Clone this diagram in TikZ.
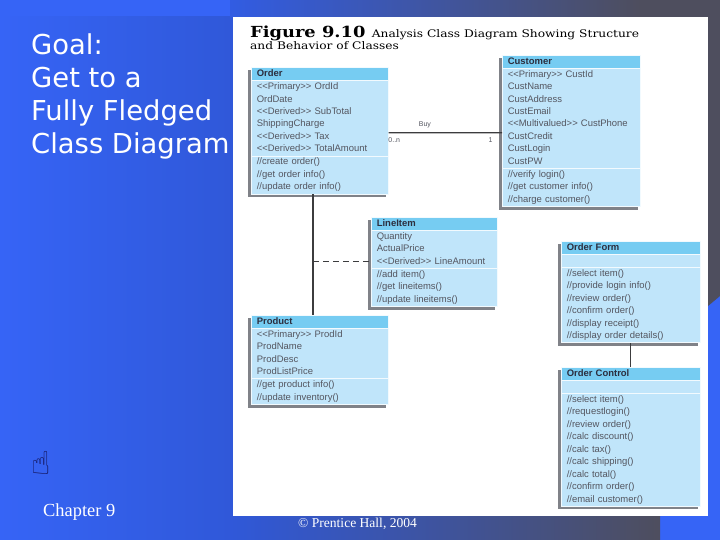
\documentclass[tikz,border=0pt]{standalone}
\usepackage{fontspec}
\usetikzlibrary{shapes.multipart,positioning}

\newfontfamily\slidefont{DejaVu Sans}
\newfontfamily\umlfont{Liberation Sans}
\newfontfamily\timesfont{Liberation Serif}
\newfontfamily\figfont{DejaVu Serif}[FakeStretch=1.17]

\definecolor{slideblue}{RGB}{54,100,246}
\definecolor{slidegray}{RGB}{78,78,94}
\definecolor{hdrblue}{RGB}{118,204,242}
\definecolor{bodyblue}{RGB}{192,229,250}
\definecolor{umltext}{RGB}{84,86,96}
\definecolor{umlhead}{RGB}{44,46,62}
\definecolor{linegray}{RGB}{60,60,62}
\definecolor{shadowgray}{RGB}{128,130,136}
\definecolor{handnavy}{RGB}{20,20,90}

\pgfdeclarelayer{back}
\pgfdeclarelayer{shadow}
\pgfsetlayers{back,shadow,main}

\begin{document}
\begin{tikzpicture}[
    x=1bp, y=-1bp,
    cls/.style={rectangle split, rectangle split parts=3,
        rectangle split part fill={hdrblue,bodyblue,bodyblue},
        draw=white!80!bodyblue, line width=0.6bp,
        inner xsep=5.5bp, inner ysep=0pt, align=left, anchor=north west,
        font=\umlfont\fontsize{9.5}{12.5}\selectfont, text=umltext},
    link/.style={draw=linegray, line width=1.3bp},
    mult/.style={font=\umlfont\fontsize{7}{8}\selectfont, text=umltext, inner sep=1bp},
]
\useasboundingbox (0,0) rectangle (720,540);

\begin{pgfonlayer}{back}
% slide background
\fill[slideblue] (0,0) rectangle (720,540);
\shade[left color=slideblue, right color=slideblue!88!black] (0,17) rectangle (233,540);
\shade[left color=slideblue!92!black, right color=slidegray] (230,0) rectangle (640,17);
\fill[slidegray] (640,0) rectangle (720,17);
\fill[slidegray] (708,0) -- (720,0) -- (720,296) -- (708,306) -- cycle;
\shade[left color=slideblue!88!black, right color=slidegray] (233,516) rectangle (660,540);

% figure panel
\fill[white] (233,17) rectangle (708,516);
\end{pgfonlayer}

% slide text
\node[anchor=base west, align=left, inner sep=0, text=white,
    font=\slidefont\fontsize{27.5}{33.3}\selectfont] (goal) at (31,154)
    {Goal:\\Get to a\\Fully Fledged\\Class Diagram};
\node[inner sep=0, text=handnavy, font=\slidefont\fontsize{32}{32}\selectfont]
    (hand) at (41,463) {☝};
\node[anchor=base west, inner sep=0, text=white,
    font=\timesfont\fontsize{18.5}{20}\selectfont] (chapter) at (43,516) {Chapter 9};
\node[anchor=base west, inner sep=0, text=white,
    font=\timesfont\fontsize{13.6}{15}\selectfont] (copy) at (298,527)
    {© Prentice Hall, 2004};

% figure caption
\node[anchor=base west, inner sep=0, font=\figfont\bfseries\fontsize{15.3}{18}\selectfont]
    (fignum) at (250,37.7) {Figure 9.10};
\node[right=6bp of fignum.base east, anchor=base west, inner sep=0,
    font=\figfont\fontsize{10.5}{12}\selectfont] (figtitle)
    {Analysis Class Diagram Showing Structure};
\node[anchor=base west, inner sep=0, font=\figfont\fontsize{10.5}{12}\selectfont]
    (figtitle2) at (250,50) {and Behavior of Classes};

% classes
\node[cls, text width=126bp] (order) at (251,67.25)
    {\strut\textcolor{umlhead}{\bfseries Order}
    \nodepart{two}\strut<<Primary>> OrdId\\OrdDate\\<<Derived>> SubTotal\\
    ShippingCharge\\<<Derived>> Tax\\<<Derived>> TotalAmount\strut
    \nodepart{three}\strut//create order()\\//get order info()\\//update order info()\strut};

\node[cls, text width=127bp] (customer) at (502,54.75)
    {\strut\textcolor{umlhead}{\bfseries Customer}
    \nodepart{two}\strut<<Primary>> CustId\\CustName\\CustAddress\\CustEmail\\
    <<Multivalued>> CustPhone\\CustCredit\\CustLogin\\CustPW\strut
    \nodepart{three}\strut//verify login()\\//get customer info()\\//charge customer()\strut};

\node[cls, text width=115bp] (lineitem) at (371,217)
    {\strut\textcolor{umlhead}{\bfseries LineItem}
    \nodepart{two}\strut Quantity\\ActualPrice\\<<Derived>> LineAmount\strut
    \nodepart{three}\strut//add item()\\//get lineitems()\\//update lineitems()\strut};

\node[cls, text width=128bp] (orderform) at (561,241)
    {\strut\textcolor{umlhead}{\bfseries Order Form}
    \nodepart{two}\strut
    \nodepart{three}\strut//select item()\\//provide login info()\\//review order()\\
    //confirm order()\\//display receipt()\\//display order details()\strut};

\node[cls, text width=126bp] (product) at (251,315)
    {\strut\textcolor{umlhead}{\bfseries Product}
    \nodepart{two}\strut<<Primary>> ProdId\\ProdName\\ProdDesc\\ProdListPrice\strut
    \nodepart{three}\strut//get product info()\\//update inventory()\strut};

\node[cls, text width=128bp] (ordercontrol) at (561,367)
    {\strut\textcolor{umlhead}{\bfseries Order Control}
    \nodepart{two}\strut
    \nodepart{three}\strut//select item()\\//requestlogin()\\//review order()\\
    //calc discount()\\//calc tax()\\//calc shipping()\\//calc total()\\
    //confirm order()\\//email customer()\strut};

% box shadows (left and below)
\begin{pgfonlayer}{shadow}
\foreach \c in {order,customer,lineitem,orderform,product,ordercontrol}
    \fill[shadowgray] ([shift={(-3bp,-3bp)}]\c.north west)
        rectangle ([shift={(-3bp,-3bp)}]\c.south east);
\end{pgfonlayer}

% associations
\draw[link] ([yshift=-2bp]order.east) -- ([yshift=-2bp]customer.west)
    node[mult, pos=0.32, above=3bp] (buy) {Buy}
    node[mult, pos=0.05, below=3bp] (multn) {0..n}
    node[mult, pos=0.9, below=3bp] (multone) {1};

\coordinate (jx) at (313,0);
\coordinate (jn) at (lineitem.west -| jx);
\draw[link] (order.south -| jx) -- (product.north -| jx);
\draw[link, dash pattern=on 6bp off 4bp] (jn) -- (lineitem.west);

\draw[link] (orderform.south) -- (ordercontrol.north);
\end{tikzpicture}
\end{document}
